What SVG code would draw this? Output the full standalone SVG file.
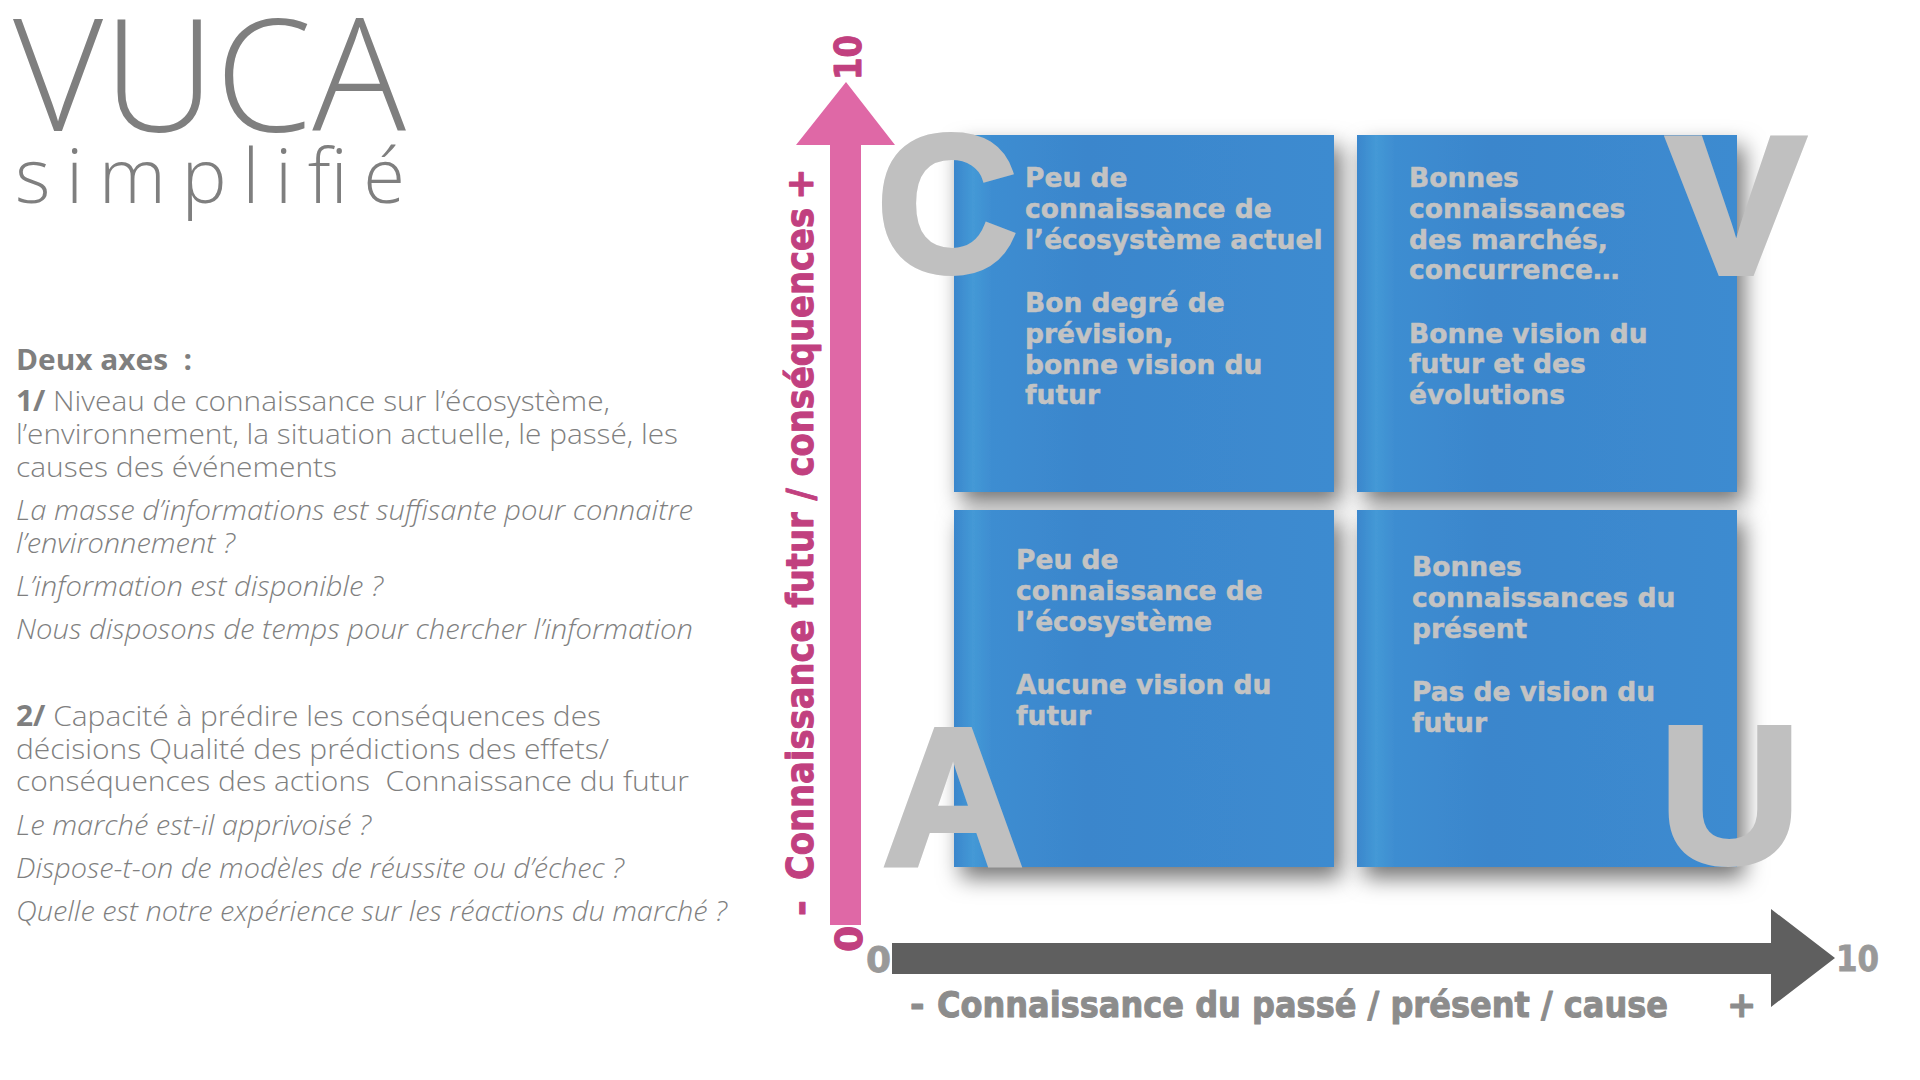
<svg xmlns="http://www.w3.org/2000/svg" width="1920" height="1080" viewBox="0 0 1920 1080">
  <style>
    .title { font-family: "Open Sans", "Liberation Sans", sans-serif; font-weight: 300; fill: #7f7f7f; }
    .body { font-family: "Open Sans", "Liberation Sans", sans-serif; font-weight: 300; font-size: 28px; fill: #7f7f7f; white-space: pre; }
    .it { font-style: italic; }
    .b { font-weight: 700; }
    .box { fill: url(#boxGrad); filter: url(#shadow); }
    .btxt { font-family: "DejaVu Sans", Verdana, sans-serif; font-weight: 700; font-size: 26.5px; fill: #c3c3c3; stroke: #c3c3c3; stroke-width: 0.5px; stroke-linejoin: round; }
    .big { font-family: "Liberation Sans", Arial, sans-serif; font-weight: 700; font-size: 194px; fill: #c0c0c0; stroke: #c0c0c0; stroke-width: 6px; stroke-linejoin: miter; }
    .ptxt { font-family: "DejaVu Sans", Verdana, sans-serif; font-weight: 700; font-size: 38px; fill: #c1407f; stroke: #c1407f; stroke-width: 1px; stroke-linejoin: round; }
    .gtxt { font-family: "DejaVu Sans", Verdana, sans-serif; font-weight: 700; font-size: 35px; fill: #8c8c8c; stroke: #8c8c8c; stroke-width: 1px; stroke-linejoin: round; white-space: pre; }
    .gnum { font-family: "DejaVu Sans", Verdana, sans-serif; font-weight: 700; font-size: 36px; fill: #999999; stroke: #999999; stroke-width: 0.8px; }
  </style>
  <defs>
    <linearGradient id="boxGrad" x1="0" y1="0" x2="1" y2="0">
      <stop offset="0" stop-color="#3a86cc"/>
      <stop offset="0.05" stop-color="#4499d6"/>
      <stop offset="0.1" stop-color="#3e8dd1"/>
      <stop offset="0.35" stop-color="#3a86cc"/>
      <stop offset="1" stop-color="#3d8bd0"/>
    </linearGradient>
    <filter id="shadow" x="-20%" y="-20%" width="150%" height="150%">
      <feDropShadow dx="7" dy="11" stdDeviation="11" flood-color="#000000" flood-opacity="0.55"/>
    </filter>
  </defs>
  <rect width="1920" height="1080" fill="#ffffff"/>

  <g id="title">
    <text class="title" x="13" y="131" font-size="157" textLength="393" lengthAdjust="spacingAndGlyphs">VUCA</text>
    <text class="title" x="15" y="203" font-size="76" textLength="390" lengthAdjust="spacing">simplifié</text>
  </g>

  <g id="description">
    <text class="body b" x="16" y="370" textLength="176" lengthAdjust="spacingAndGlyphs">Deux axes  :</text>
    <text class="body" x="16" y="411" textLength="594" lengthAdjust="spacingAndGlyphs"><tspan class="b">1/</tspan> Niveau de connaissance sur l’écosystème,</text>
    <text class="body" x="16" y="444" textLength="662" lengthAdjust="spacingAndGlyphs">l’environnement, la situation actuelle, le passé, les</text>
    <text class="body" x="16" y="477" textLength="321" lengthAdjust="spacingAndGlyphs">causes des événements</text>
    <text class="body it" x="16" y="520" textLength="677" lengthAdjust="spacingAndGlyphs">La masse d’informations est suffisante pour connaitre</text>
    <text class="body it" x="16" y="553" textLength="219" lengthAdjust="spacingAndGlyphs">l’environnement ?</text>
    <text class="body it" x="16" y="596" textLength="367" lengthAdjust="spacingAndGlyphs">L’information est disponible ?</text>
    <text class="body it" x="16" y="639" textLength="677" lengthAdjust="spacingAndGlyphs">Nous disposons de temps pour chercher l’information</text>
    <text class="body" x="16" y="726" textLength="585" lengthAdjust="spacingAndGlyphs"><tspan class="b">2/</tspan> Capacité à prédire les conséquences des</text>
    <text class="body" x="16" y="759" textLength="593" lengthAdjust="spacingAndGlyphs">décisions Qualité des prédictions des effets/</text>
    <text class="body" x="16" y="791" textLength="673" lengthAdjust="spacingAndGlyphs">conséquences des actions  Connaissance du futur</text>
    <text class="body it" x="16" y="835" textLength="355" lengthAdjust="spacingAndGlyphs">Le marché est-il apprivoisé ?</text>
    <text class="body it" x="16" y="878" textLength="608" lengthAdjust="spacingAndGlyphs">Dispose-t-on de modèles de réussite ou d’échec ?</text>
    <text class="body it" x="16" y="921" textLength="711" lengthAdjust="spacingAndGlyphs">Quelle est notre expérience sur les réactions du marché ?</text>
  </g>

  <g id="connectors">
    <path id="axis-y" d="M830 925 L830 145 L796 145 L846 82 L895 145 L861 145 L861 925 Z" fill="#df68a6"/>
    <path id="axis-x" d="M892 943 L1771 943 L1771 909 L1835 958 L1771 1007 L1771 974 L892 974 Z" fill="#5f5f5f"/>
  </g>

  <g id="axis-y-labels">
    <text class="ptxt" transform="translate(861,80) rotate(-90)" textLength="45" lengthAdjust="spacingAndGlyphs">10</text>
    <text class="ptxt" transform="translate(862,952) rotate(-90)">0</text>
    <text class="ptxt" transform="translate(813,916) rotate(-90)">-</text>
    <text class="ptxt" transform="translate(813,880) rotate(-90)" textLength="672" lengthAdjust="spacingAndGlyphs">Connaissance futur / conséquences</text>
    <text class="ptxt" transform="translate(813,200) rotate(-90)">+</text>
  </g>

  <g id="axis-x-labels">
    <text class="gnum" x="866" y="972">0</text>
    <text class="gnum" x="1836" y="971" textLength="43" lengthAdjust="spacingAndGlyphs">10</text>
    <text class="gtxt" x="910" y="1017">-</text>
    <text class="gtxt" x="937" y="1017" textLength="731" lengthAdjust="spacingAndGlyphs">Connaissance du passé / présent / cause</text>
    <text class="gtxt" x="1727" y="1017">+</text>
  </g>

  <g id="quadrant-C">
    <rect class="box" x="954" y="135" width="380" height="357"/>
    <text class="btxt" x="1025" y="187">Peu de</text>
    <text class="btxt" x="1025" y="218">connaissance de</text>
    <text class="btxt" x="1025" y="249">l’écosystème actuel</text>
    <text class="btxt" x="1025" y="312">Bon degré de</text>
    <text class="btxt" x="1025" y="343">prévision,</text>
    <text class="btxt" x="1025" y="374">bonne vision du</text>
    <text class="btxt" x="1025" y="404">futur</text>
  </g>

  <g id="quadrant-V">
    <rect class="box" x="1357" y="135" width="380" height="357"/>
    <text class="btxt" x="1409" y="187">Bonnes</text>
    <text class="btxt" x="1409" y="218">connaissances</text>
    <text class="btxt" x="1409" y="249">des marchés,</text>
    <text class="btxt" x="1409" y="279">concurrence…</text>
    <text class="btxt" x="1409" y="343">Bonne vision du</text>
    <text class="btxt" x="1409" y="373">futur et des</text>
    <text class="btxt" x="1409" y="404">évolutions</text>
  </g>

  <g id="quadrant-A">
    <rect class="box" x="954" y="510" width="380" height="357"/>
    <text class="btxt" x="1016" y="569">Peu de</text>
    <text class="btxt" x="1016" y="600">connaissance de</text>
    <text class="btxt" x="1016" y="631">l’écosystème</text>
    <text class="btxt" x="1016" y="694">Aucune vision du</text>
    <text class="btxt" x="1016" y="725">futur</text>
  </g>

  <g id="quadrant-U">
    <rect class="box" x="1357" y="510" width="380" height="357"/>
    <text class="btxt" x="1412" y="576">Bonnes</text>
    <text class="btxt" x="1412" y="607">connaissances du</text>
    <text class="btxt" x="1412" y="638">présent</text>
    <text class="btxt" x="1412" y="701">Pas de vision du</text>
    <text class="btxt" x="1412" y="732">futur</text>
  </g>

  <g id="letters">
    <text class="big" x="877" y="271">C</text>
    <text class="big" x="1667" y="273" textLength="138" lengthAdjust="spacingAndGlyphs">V</text>
    <text class="big" x="883" y="864">A</text>
    <text class="big" x="1660" y="862">U</text>
  </g>
</svg>
